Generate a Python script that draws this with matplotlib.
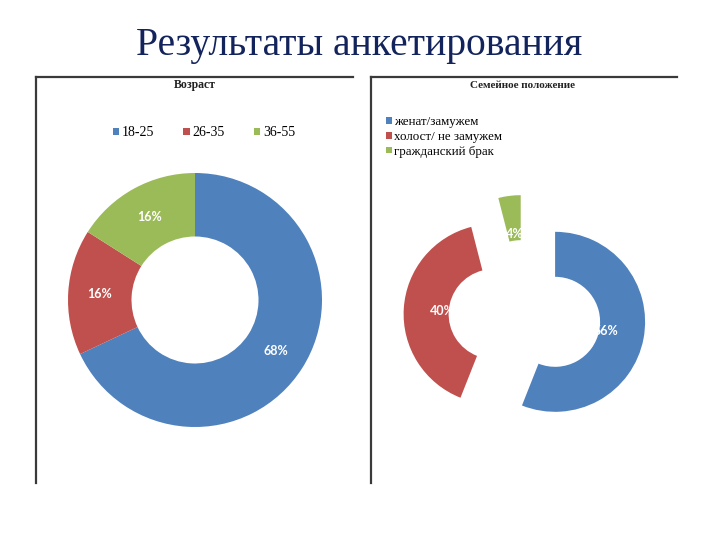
import matplotlib.pyplot as plt

# data
age_labels = ["18-25", "26-35", "36-55"]
age_values = [68, 16, 16]
family_labels = ["женат/замужем", "холост/ не замужем", "гражданский брак"]
family_values = [56, 40, 4]
colors = ["#4F81BD", "#C0504D", "#9BBB59"]

W, H = 720, 540
fig = plt.figure(figsize=(7.2, 5.4), dpi=100)


def px_axes(x0, y0, w, h):
    # pixel box (top-left origin) -> figure axes
    return fig.add_axes([x0 / W, 1 - (y0 + h) / H, w / W, h / H])


def frame(x0, y0, w, h):
    ax = px_axes(x0, y0, w, h)
    ax.set_xticks([])
    ax.set_yticks([])
    for s in ["right", "bottom"]:
        ax.spines[s].set_visible(False)
    for s in ["top", "left"]:
        ax.spines[s].set_color("#3a3a3a")
        ax.spines[s].set_linewidth(1.6)
    ax.patch.set_alpha(0)
    return ax


def donut_axes(cx, cy, r, lim):
    side = 2 * lim * r
    ax = px_axes(cx - side / 2, cy - side / 2, side, side)
    ax.set_xlim(-lim, lim)
    ax.set_ylim(-lim, lim)
    ax.set_aspect("equal")
    ax.axis("off")
    return ax


fig.text(0.4993, 1 - 55 / H, "Результаты анкетирования", ha="center", va="baseline",
         fontsize=28.5, family="Liberation Serif", color="#13235c")

frame(36, 77, 317, 406)
frame(371, 77, 306, 406)

fig.text(195 / W, 1 - 85 / H, "Возраст", ha="center", va="center",
         fontsize=8.5, fontweight="bold", family="Liberation Serif", color="#222222")
fig.text(523 / W, 1 - 85 / H, "Семейное положение", ha="center", va="center",
         fontsize=8, fontweight="bold", family="Liberation Serif", color="#222222")

lbl = dict(color="white", fontsize=9, fontweight="bold", family="Lato")

# left donut
ax1 = donut_axes(195, 300, 127, 1.1)
w1, _, t1 = ax1.pie(age_values, colors=colors, startangle=90, counterclock=False,
                    radius=1, wedgeprops=dict(width=0.5, linewidth=0),
                    autopct=lambda p: f"{p:.0f}%", pctdistance=0.75, textprops=lbl)
ax1.set_xlim(-1.1, 1.1)
ax1.set_ylim(-1.1, 1.1)

# right donut (exploded)
ax2 = donut_axes(524.6, 316, 90, 1.5)
w2, _, t2 = ax2.pie(family_values, colors=colors, startangle=90, counterclock=False,
                    radius=1, explode=[0.345] * 3,
                    wedgeprops=dict(width=0.5, linewidth=0),
                    autopct=lambda p: f"{p:.0f}%", pctdistance=0.57, textprops=lbl)
ax2.set_xlim(-1.5, 1.5)
ax2.set_ylim(-1.5, 1.5)

leg_font = dict(family="Liberation Serif", size=10)
fig.legend(w1, age_labels, loc="center", bbox_to_anchor=(204 / W, 1 - 133 / H),
           ncol=3, frameon=False, prop=leg_font, handlelength=0.45, handleheight=0.45,
           handletextpad=0.2, columnspacing=2.1, borderpad=0, borderaxespad=0)
fig.legend(w2, family_labels, loc="center left", bbox_to_anchor=(386 / W, 1 - 137 / H),
           ncol=1, frameon=False, prop=dict(family="Liberation Serif", size=9.3),
           handlelength=0.45, handleheight=0.45, handletextpad=0.2, labelspacing=0.2,
           borderpad=0, borderaxespad=0)

fig.savefig("out.png", dpi=100)
